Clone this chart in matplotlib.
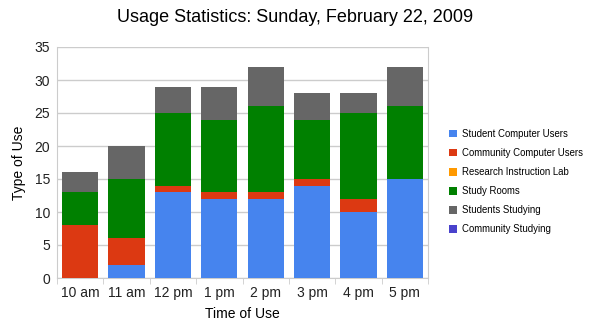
import numpy as np
import matplotlib
matplotlib.use("Agg")
import matplotlib.pyplot as plt
from matplotlib.patches import Patch

plt.rcParams['font.family'] = ['Liberation Sans', 'DejaVu Sans']

hours = ['10 am', '11 am', '12 pm', '1 pm', '2 pm', '3 pm', '4 pm', '5 pm']
student_computer = [0, 2, 13, 12, 12, 14, 10, 15]
community_computer = [8, 4, 1, 1, 1, 1, 2, 0]
research_lab = [0, 0, 0, 0, 0, 0, 0, 0]
study_rooms = [5, 9, 11, 11, 13, 9, 13, 11]
students_studying = [3, 5, 4, 5, 6, 4, 3, 6]
community_studying = [0, 0, 0, 0, 0, 0, 0, 0]

series = [
    ('Student Computer Users', student_computer, '#4684ee'),
    ('Community Computer Users', community_computer, '#dc3912'),
    ('Research Instruction Lab', research_lab, '#ff9900'),
    ('Study Rooms', study_rooms, '#008000'),
    ('Students Studying', students_studying, '#666666'),
    ('Community Studying', community_studying, '#4942cc'),
]

fig = plt.figure(figsize=(5.91, 3.32), dpi=100)
ax = fig.add_axes([57 / 591, 1 - 278 / 332, (428 - 57) / 591, (278 - 47) / 332])

x = np.arange(len(hours))
bottom = np.zeros(len(hours))
handles = []
for name, vals, col in series:
    vals = np.array(vals, dtype=float)
    ax.bar(x, vals, 0.78, bottom=bottom, color=col, linewidth=0, zorder=3)
    bottom += vals
    handles.append(Patch(facecolor=col, edgecolor='none', label=name))

ax.set_xlim(-0.5, len(hours) - 0.5)
ax.set_ylim(0, 35)
ax.set_yticks(range(0, 36, 5))
ax.grid(axis='y', color='#cccccc', linewidth=1, zorder=0)
ax.set_xticks(x)
ax.set_xticklabels(hours)
ax.set_xticks(np.arange(-0.5, len(hours)), minor=True)
ax.tick_params(axis='x', which='major', length=0, pad=6, labelsize=10, colors='#222222')
ax.tick_params(axis='x', which='minor', length=4, color='#cccccc', direction='out')
ax.tick_params(axis='y', length=0, pad=5, labelsize=10, colors='#222222')
for s in ['left', 'right', 'bottom']:
    ax.spines[s].set_color('#cccccc')
ax.spines['top'].set_visible(False)

ax.set_xlabel('Time of Use', fontsize=10, labelpad=5)
ax.set_ylabel('Type of Use', fontsize=10, labelpad=6)

fig.text(0.5, 1 - 18 / 332, 'Usage Statistics: Sunday, February 22, 2009',
         ha='center', va='center', fontsize=13)

fig.legend(handles=handles, loc='upper left', bbox_to_anchor=(445 / 591, 1 - 125 / 332),
           frameon=False, prop={'family': 'Liberation Sans', 'size': 6.9},
           handlelength=0.85, handleheight=0.85,
           handletextpad=0.55, labelspacing=0.95, borderaxespad=0)

fig.savefig('out.png', dpi=100)
